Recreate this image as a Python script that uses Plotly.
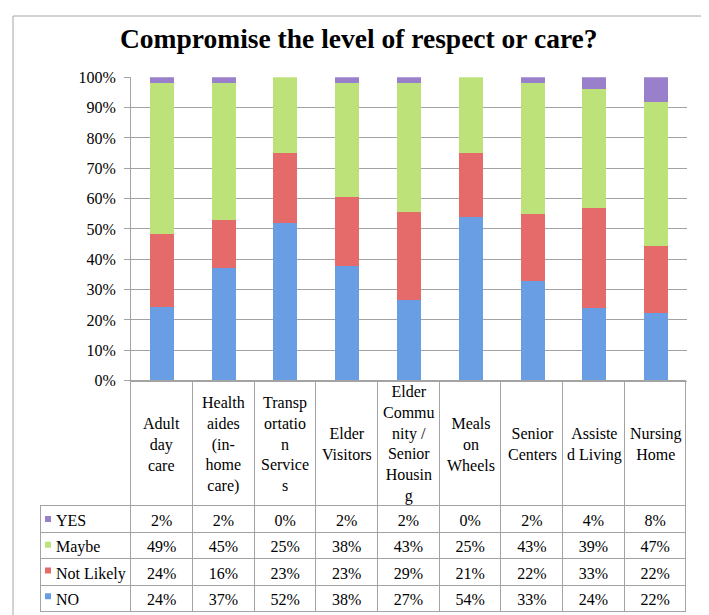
import plotly.graph_objects as go

categories = ["Adult day care", "Health aides (in-home care)", "Transportation Services",
              "Elder Visitors", "Elder Community / Senior Housing", "Meals on Wheels",
              "Senior Centers", "Assisted Living", "Nursing Home"]
category_labels = ["Adult<br>day<br>care", "Health<br>aides<br>(in-<br>home<br>care)",
                   "Transp<br>ortatio<br>n<br>Service<br>s", "Elder<br>Visitors",
                   "Elder<br>Commu<br>nity /<br>Senior<br>Housin<br>g", "Meals<br>on<br>Wheels",
                   "Senior<br>Centers", "Assiste<br>d Living", "Nursing<br>Home"]
series_names = ["NO", "Not Likely", "Maybe", "YES"]
no_vals = [24, 37, 52, 38, 27, 54, 33, 24, 22]
not_likely_vals = [24, 16, 23, 23, 29, 21, 22, 33, 22]
maybe_vals = [49, 45, 25, 38, 43, 25, 43, 39, 47]
yes_vals = [2, 2, 0, 2, 2, 0, 2, 4, 8]
y_ticks = [0, 10, 20, 30, 40, 50, 60, 70, 80, 90, 100]
y_tick_labels = ["0%", "10%", "20%", "30%", "40%", "50%", "60%", "70%", "80%", "90%", "100%"]
title_text = "Compromise the level of respect or care?"

colors = {"NO": "#6A9EE4", "Not Likely": "#E46B69", "Maybe": "#BDE279", "YES": "#9A80CA"}
series = {"NO": no_vals, "Not Likely": not_likely_vals, "Maybe": maybe_vals, "YES": yes_vals}

W, H = 709, 615
OFF = 8  # default page body margin
FONT = "Liberation Serif"
GRID = "#a3a3a3"


def px(x):
    return (x - OFF) / W


def py(y):
    return (H - (y - OFF)) / H


plot_left, plot_right = 131, 687
plot_top, plot_bottom = 71, 383
table_left, table_bottom = 40, 614
header_bottom = 508

fig = go.Figure()
for name in series_names:
    fig.add_trace(go.Bar(x=categories, y=series[name], name=name,
                         marker=dict(color=colors[name], line=dict(width=0)),
                         xaxis="x", yaxis="y"))

# legend swatches inside the table's label column
table_rows_order = ["YES", "Maybe", "Not Likely", "NO"]
fig.add_trace(go.Scatter(x=[8] * len(table_rows_order), y=table_rows_order, mode="markers",
                         marker=dict(symbol="square", size=6,
                                     color=[colors[n] for n in table_rows_order]),
                         xaxis="x2", yaxis="y2", hoverinfo="skip"))

label_col = ["\u00a0\u00a0" + n.replace(" ", "\u00a0") for n in table_rows_order]
value_cols = [[f"{series[n][i]}%" for n in table_rows_order] for i in range(len(categories))]

ncol = len(categories)
fig.add_trace(go.Table(
    domain=dict(x=[px(table_left), px(plot_right)], y=[0, py(plot_bottom)]),
    columnwidth=[plot_left - table_left] + [(plot_right - plot_left) / ncol] * ncol,
    header=dict(values=[""] * (ncol + 1), height=header_bottom - plot_bottom,
                line=dict(color=["rgba(0,0,0,0)"] + [GRID] * ncol, width=1),
                fill=dict(color="rgba(0,0,0,0)")),
    cells=dict(values=[label_col] + value_cols, height=26.5,
               align=["left"] + ["center"] * ncol,
               font=dict(family=FONT, size=16, color="black"),
               line=dict(color=GRID, width=1), fill=dict(color="rgba(0,0,0,0)")),
))

annotations = [dict(x=px(359), y=py(31), xref="paper", yref="paper", text=f"<b>{title_text}</b>",
                    showarrow=False, xanchor="center", yanchor="middle",
                    font=dict(family=FONT, size=27.5, color="black"))]
header_mid = (plot_bottom + header_bottom) / 2 + 3
for cat, lab in zip(categories, category_labels):
    annotations.append(dict(x=cat, xref="x", y=py(header_mid), yref="paper",
                            text=lab, showarrow=False, yanchor="middle", xanchor="center",
                            font=dict(family=FONT, size=16, color="black")))

fig.update_layout(
    width=W, height=H,
    margin=dict(l=0, r=0, t=0, b=0),
    paper_bgcolor="white", plot_bgcolor="white",
    barmode="stack", barnorm="percent", bargap=0.61,
    showlegend=False,
    xaxis=dict(domain=[px(plot_left), px(plot_right)], showticklabels=False,
               showline=True, linecolor=GRID, ticks="", showgrid=False, fixedrange=True),
    yaxis=dict(domain=[py(plot_bottom), py(plot_top)], range=[0, 100],
               tickvals=y_ticks, ticktext=y_tick_labels, showgrid=True, gridcolor=GRID,
               showline=True, linecolor=GRID, ticks="outside", ticklen=6, tickcolor=GRID,
               ticklabelstandoff=5,
               tickfont=dict(family=FONT, size=16, color="black"), zeroline=False),
    xaxis2=dict(domain=[px(table_left), px(plot_left)], range=[0, plot_left - table_left],
                visible=False, anchor="y2"),
    yaxis2=dict(domain=[py(table_bottom + 4), py(header_bottom + 4)], type="category",
                categoryarray=list(reversed(table_rows_order)), categoryorder="array",
                range=[-0.5, len(table_rows_order) - 0.5], visible=False, anchor="x2"),
    annotations=annotations,
    shapes=[dict(type="rect", xref="paper", yref="paper", x0=px(13), x1=px(704),
                 y0=-0.05, y1=py(8), line=dict(color="#a6a6a6", width=1),
                 fillcolor="rgba(0,0,0,0)", layer="below")],
)

fig.write_html("out.html")
